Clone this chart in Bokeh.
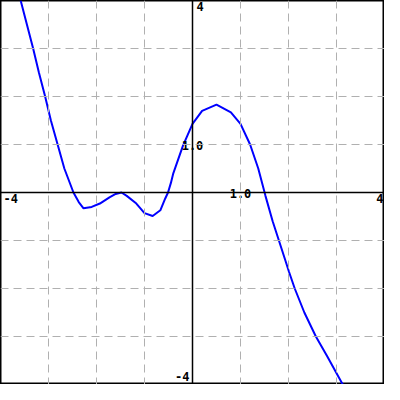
from bokeh.plotting import figure
from bokeh.models import Range1d, Span
from bokeh.core.properties import value
from bokeh.embed import file_html
from bokeh.resources import INLINE

# curve samples
curve_x = [-3.58, -3.45, -3.32, -3.2, -3.07, -2.95, -2.81, -2.67, -2.48, -2.37, -2.27,
           -2.1, -1.93, -1.73, -1.6, -1.48, -1.37, -1.17, -1.0, -0.83, -0.67, -0.57,
           -0.51, -0.45, -0.4, -0.2, 0.0, 0.2, 0.5, 0.8, 1.0, 1.2, 1.37, 1.52,
           1.67, 1.8, 1.93, 2.01, 2.13, 2.33, 2.57, 2.8, 3.13]
curve_y = [4.0, 3.5, 3.0, 2.5, 2.0, 1.5, 1.0, 0.5, 0.0, -0.2, -0.33,
           -0.3, -0.23, -0.1, -0.03, 0.0, -0.07, -0.23, -0.43, -0.49, -0.37, -0.13,
           0.0, 0.2, 0.4, 0.97, 1.43, 1.7, 1.83, 1.67, 1.43, 1.0, 0.5, -0.07,
           -0.6, -1.0, -1.4, -1.65, -2.0, -2.5, -3.0, -3.4, -4.0]

grid_vals = [-3, -2, -1, 1, 2, 3]
x_min, x_max = -4, 4
y_min, y_max = -4, 4
unit_label = "1.0"

p = figure(width=384, height=384, output_backend="svg", toolbar_location=None,
           x_range=Range1d(x_min, x_max), y_range=Range1d(y_min, y_max),
           min_border=0, outline_line_color="black", outline_line_width=2)
p.axis.visible = False
p.grid.visible = False

for g in grid_vals:
    p.add_layout(Span(location=g, dimension="height", line_color="#b0b0b0",
                      line_dash="8 5", line_width=1))
    p.add_layout(Span(location=g, dimension="width", line_color="#b0b0b0",
                      line_dash="8 5", line_width=1))

p.add_layout(Span(location=0, dimension="height", line_color="black", line_width=1.5))
p.add_layout(Span(location=0, dimension="width", line_color="black", line_width=1.5))

p.line(curve_x, curve_y, line_color="#0000ff", line_width=2)

font = value("DejaVu Sans Mono")
common = dict(text_font=font, text_font_size="12px", text_font_style="bold", text_color="black")
p.text(x=[x_min], y=[0], text=[str(x_min)], text_align="left", text_baseline="top",
       x_offset=3, y_offset=1, **common)
p.text(x=[x_max], y=[0], text=[str(x_max)], text_align="right", text_baseline="top",
       x_offset=-1, y_offset=1, **common)
p.text(x=[0], y=[y_max], text=[str(y_max)], text_align="left", text_baseline="top",
       x_offset=4, y_offset=1, **common)
p.text(x=[0], y=[y_min], text=[str(y_min)], text_align="right", text_baseline="bottom",
       x_offset=-3, y_offset=-4, **common)
p.text(x=[1], y=[0], text=[unit_label], text_align="center", text_baseline="middle",
       x_offset=0, y_offset=1, **common)
p.text(x=[0], y=[1], text=[unit_label], text_align="center", text_baseline="middle",
       x_offset=0, y_offset=1, **common)

open("out.html", "w").write(file_html(p, INLINE))
